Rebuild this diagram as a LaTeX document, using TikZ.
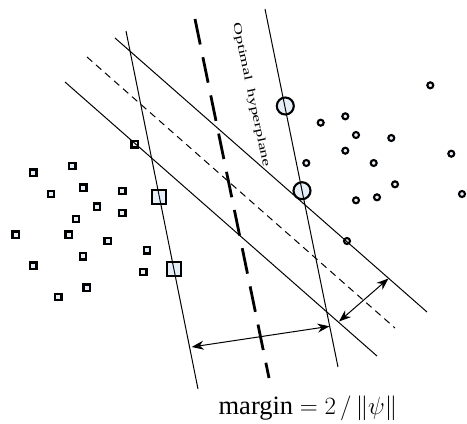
\documentclass[tikz,border=0pt]{standalone}
\usepackage{fontspec}
\setmainfont{Liberation Serif}
\usetikzlibrary{arrows.meta}
\definecolor{ptfill}{HTML}{E6EEF8}
\begin{document}
\begin{tikzpicture}[x=1pt,y=-1pt,
  thinline/.style={line width=1pt},
  sq/.style={rectangle,draw=black,fill=ptfill,line width=2.3pt,minimum size=6.5pt,inner sep=0pt,outer sep=0pt},
  bigsq/.style={sq,line width=2.1pt,minimum size=14pt},
  ci/.style={circle,draw=black,fill=ptfill,line width=2.1pt,minimum size=6pt,inner sep=0pt,outer sep=0pt},
  bigci/.style={ci,minimum size=17pt},
  thickdash/.style={line width=2.8pt,dash pattern=on 26pt off 13pt},
  thindash/.style={line width=1pt,dash pattern=on 7pt off 5pt},
  dblarrow/.style={thinline,{Stealth[length=12pt,width=9pt]}-{Stealth[length=12pt,width=9pt]}}
]
\useasboundingbox (0,0) rectangle (467,424);

% squares (class 1)
\node[sq] (s1) at (134.7,144.3) {};
\node[sq] (s2) at (33.3,172.7) {};
\node[sq] (s3) at (72.3,166) {};
\node[sq] (s4) at (83.3,187.7) {};
\node[sq] (s5) at (122.3,191) {};
\node[sq] (s6) at (51,194) {};
\node[sq] (s7) at (97,206.7) {};
\node[sq] (s8) at (122.3,213) {};
\node[sq] (s9) at (76,219) {};
\node[sq] (s10) at (15.7,234.7) {};
\node[sq] (s11) at (68.7,234.7) {};
\node[sq] (s12) at (107.7,241) {};
\node[sq] (s13) at (147,250.3) {};
\node[sq] (s14) at (83,256.3) {};
\node[sq] (s15) at (33.3,265.7) {};
\node[sq] (s16) at (143.3,272) {};
\node[sq] (s17) at (86.7,287.7) {};
\node[sq] (s18) at (58.3,297) {};
\node[bigsq] (S1) at (159.3,196.7) {};
\node[bigsq] (S2) at (173.7,269) {};

% circles (class 2)
\node[ci] (c1) at (430.3,85.3) {};
\node[ci] (c2) at (320.7,122.7) {};
\node[ci] (c3) at (345.3,116.3) {};
\node[ci] (c4) at (356,135) {};
\node[ci] (c5) at (391.3,138) {};
\node[ci] (c6) at (345.3,150.7) {};
\node[ci] (c7) at (451.3,153.7) {};
\node[ci] (c8) at (306.3,163) {};
\node[ci] (c9) at (373.7,163) {};
\node[ci] (c10) at (395,184.3) {};
\node[ci] (c11) at (462,194) {};
\node[ci] (c12) at (356,200.3) {};
\node[ci] (c13) at (377,197.3) {};
\node[ci] (c14) at (347,241) {};
\node[bigci] (C1) at (285.3,106) {};
\node[bigci] (C2) at (302,190.7) {};

% line end points
\coordinate (lvA) at (126,31);
\coordinate (lvB) at (198,389);
\coordinate (rvA) at (265,9);
\coordinate (rvB) at (338,367);
\coordinate (tdA) at (195,19);
\coordinate (tdB) at (269,378);
\coordinate (d1A) at (115,38);
\coordinate (d1B) at (427,312);
\coordinate (d2A) at (87,57);
\coordinate (d2B) at (395,328);
\coordinate (d3A) at (65,82);
\coordinate (d3B) at (377,356);
\coordinate (m1) at (191.7,347);
\coordinate (m2) at (329.5,326.3);
\coordinate (n1) at (339,321.5);
\coordinate (n2) at (388.5,278.5);

\draw[thinline] (lvA) -- (lvB);
\draw[thinline] (rvA) -- (rvB);
\draw[thickdash] (tdA) -- (tdB);
\draw[thinline] (d1A) -- (d1B);
\draw[thindash] (d2A) -- (d2B);
\draw[thinline] (d3A) -- (d3B);
\draw[dblarrow] (m1) -- (m2);
\draw[dblarrow] (n1) -- (n2);

\node[rotate=-78,inner sep=0pt,font=\fontsize{11.5}{12}\selectfont] (hyp) at (251,95) {\scalebox{1.55}[1]{Optimal~~hyperplane}};
\node[anchor=base,font=\fontsize{26.5}{28}\selectfont,inner sep=0pt] (mg) at (308,414) {margin $=2\,/\,\bigl\|\psi\bigr\|$};
\end{tikzpicture}
\end{document}
